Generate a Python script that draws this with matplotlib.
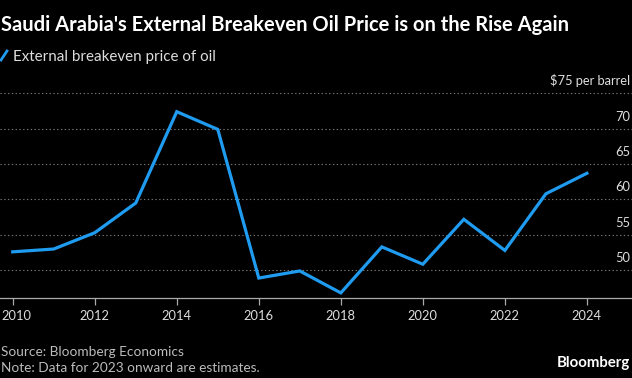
import matplotlib
matplotlib.use("Agg")
import matplotlib.pyplot as plt
from matplotlib.lines import Line2D
from matplotlib.transforms import offset_copy, blended_transform_factory, ScaledTranslation

plt.rcParams['font.family'] = ['Lato', 'DejaVu Sans']

years = [2010, 2011, 2012, 2013, 2014, 2015, 2016, 2017,
         2018, 2019, 2020, 2021, 2022, 2023, 2024]
price = [52.6, 53.0, 55.3, 59.5, 72.4, 69.9, 48.9, 49.9,
         46.8, 53.3, 50.85, 57.2, 52.8, 60.8, 63.7]
y_ticks = [50, 55, 60, 65, 70, 75]
y_labels = ['50', '55', '60', '65', '70', '$75 per barrel']
x_ticks = list(range(2010, 2025, 2))

W, H = 632, 378
fig = plt.figure(figsize=(W / 100, H / 100), dpi=100, facecolor='black')
renderer = fig.canvas.get_renderer()


def fit_size(text, width_px, weight='normal', start=10):
    # font size that makes `text` about width_px pixels wide
    t = fig.text(0, 0, text, fontsize=start, fontweight=weight)
    w = t.get_window_extent(renderer).width
    t.remove()
    return start * width_px / w


ax = fig.add_axes([0, 80 / H, 1, 212 / H], facecolor='black')

blue = '#1f9bf0'
ax.plot(years, price, color=blue, lw=2.3, solid_joinstyle='miter')

ax.set_xlim(2009.69, 2025.10)
ax.set_ylim(46.08, 76.03)

for s in ['top', 'left', 'right']:
    ax.spines[s].set_visible(False)
ax.spines['bottom'].set_color('#aaaaaa')
ax.spines['bottom'].set_linewidth(0.9)

tick_fs = fit_size('2012', 30)
ax.set_xticks(x_ticks)
ax.tick_params(axis='x', colors='#aaaaaa', length=5, width=0.9, pad=4,
               labelsize=tick_fs, labelcolor='#dddddd')
ax.set_yticks(y_ticks)
ax.tick_params(axis='y', length=0, labelleft=False)
ax.yaxis.grid(True, color='#777777', linestyle=(0, (1.2, 2.2)), lw=0.8)

# nudge the first year label so it stays inside the picture
first = ax.xaxis.get_major_ticks()[0].label1
first.set_transform(first.get_transform() +
                    ScaledTranslation(4 / 100, 0, fig.dpi_scale_trans))

# y labels sit above the gridlines, right aligned at the right edge
trans = blended_transform_factory(fig.transFigure, ax.transData)
trans = offset_copy(trans, fig=fig, x=0, y=8, units='dots')
for v, lab in zip(y_ticks, y_labels):
    ax.text(630 / W, v, lab, transform=trans, ha='right', va='baseline',
            color='#dddddd', fontsize=tick_fs, clip_on=False)

title = "Saudi Arabia's External Breakeven Oil Price is on the Rise Again"
fig.text(1 / W, 1 - 31 / H, title, color='white',
         fontsize=fit_size(title, 570, 'bold'), fontweight='bold',
         ha='left', va='baseline')

fig.add_artist(Line2D([1 / W, 7 / W], [1 - 60 / H, 1 - 51 / H],
                      transform=fig.transFigure, color=blue, lw=2))
leg = 'External breakeven price of oil'
fig.text(13 / W, 1 - 60.5 / H, leg, color='#dddddd',
         fontsize=fit_size(leg, 203), ha='left', va='baseline')

note_fs = fit_size('Note: Data for 2023 onward are estimates.', 258)
fig.text(1 / W, 1 - 356 / H, 'Source: Bloomberg Economics',
         color='#bbbbbb', fontsize=note_fs, ha='left', va='baseline')
fig.text(1 / W, 1 - 372 / H, 'Note: Data for 2023 onward are estimates.',
         color='#bbbbbb', fontsize=note_fs, ha='left', va='baseline')
fig.text(630 / W, 1 - 367 / H, 'Bloomberg', color='white',
         fontsize=fit_size('Bloomberg', 74, 'bold'),
         fontweight='bold', ha='right', va='baseline')

fig.savefig('out.png', dpi=100, facecolor='black')
